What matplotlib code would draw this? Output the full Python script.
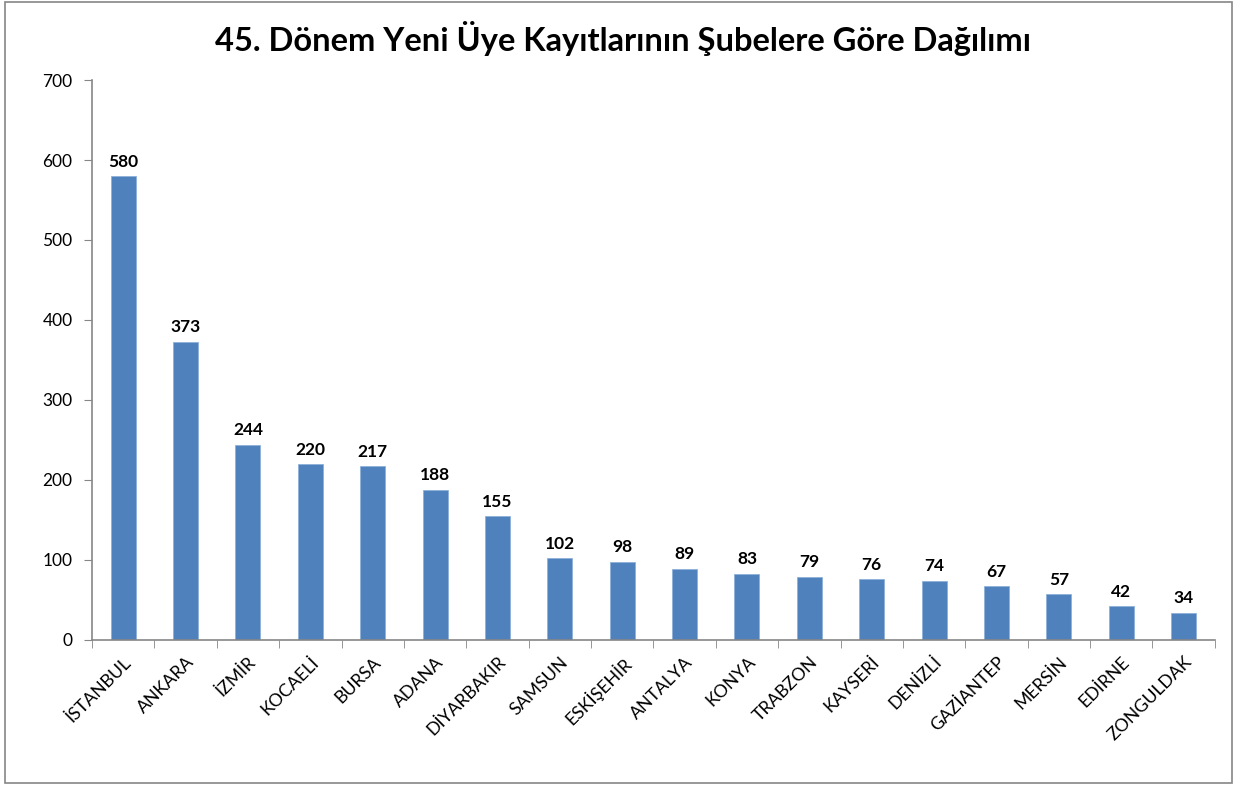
import numpy as np
import matplotlib
matplotlib.use("Agg")
import matplotlib.pyplot as plt
from matplotlib.patches import Rectangle

# data
cities = ["İSTANBUL", "ANKARA", "İZMİR", "KOCAELİ", "BURSA", "ADANA", "DİYARBAKIR",
          "SAMSUN", "ESKİŞEHİR", "ANTALYA", "KONYA", "TRABZON", "KAYSERİ", "DENİZLİ",
          "GAZİANTEP", "MERSİN", "EDİRNE", "ZONGULDAK"]
counts = [580, 373, 244, 220, 217, 188, 155, 102, 98, 89, 83, 79, 76, 74, 67, 57, 42, 34]
y_ticks = [0, 100, 200, 300, 400, 500, 600, 700]
title = "45. Dönem Yeni Üye Kayıtlarının Şubelere Göre Dağılımı"

plt.rcParams['font.family'] = ['Lato', 'DejaVu Sans']
bar_color = "#4F81BD"
axis_color = "#868686"

fig = plt.figure(figsize=(12.37, 7.86), dpi=100)
ax = fig.add_axes([0.0744, 0.1858, 0.9076, 0.7124])

x = np.arange(len(cities))
bars = ax.bar(x, counts, width=0.4, color=bar_color, edgecolor="#8EB1DA", linewidth=0.6)

# value labels
for xi, v in zip(x, counts):
    ax.text(xi, v + 8, str(v), ha="center", va="bottom", fontsize=12.5, fontweight="bold")

ax.set_xlim(-0.5, len(cities) - 0.5)
ax.set_ylim(0, 700)
ax.set_yticks(y_ticks)
ax.tick_params(axis="y", direction="out", length=6, color=axis_color, labelsize=12.5, pad=8)

ax.set_xticks(x)
ax.set_xticklabels(cities, rotation=45, ha="right", rotation_mode="anchor", fontsize=12.8)
ax.tick_params(axis="x", which="major", length=0, pad=10)
ax.set_xticks(np.arange(-0.5, len(cities), 1.0), minor=True)
ax.tick_params(axis="x", which="minor", direction="out", length=6, color=axis_color)

for side in ["top", "right"]:
    ax.spines[side].set_visible(False)
for side in ["left", "bottom"]:
    ax.spines[side].set_color(axis_color)
    ax.spines[side].set_linewidth(1.2)

fig.text(0.504, 0.951, title, ha="center", va="center", fontsize=23.5, fontweight="bold")

# outer chart frame
fig.patches.append(Rectangle((0.004, 0.004), 0.992, 0.994, transform=fig.transFigure,
                             fill=False, edgecolor="#868686", linewidth=1.2))

fig.savefig("out.png", dpi=100)
